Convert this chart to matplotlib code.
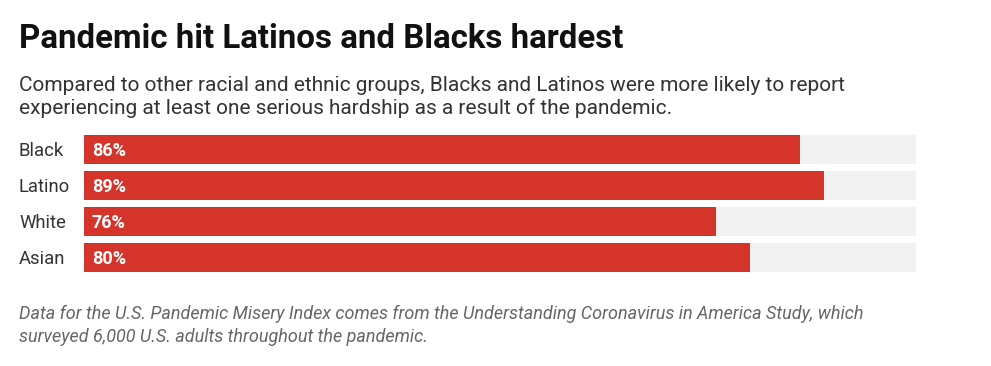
import matplotlib.pyplot as plt

# Datos
grupos = ['Black', 'Latino', 'White', 'Asian']
valores = [86, 89, 76, 80]
maximo = 100

titulo = 'Pandemic hit Latinos and Blacks hardest'
subtitulo = ('Compared to other racial and ethnic groups, Blacks and Latinos were more likely to report\n'
             'experiencing at least one serious hardship as a result of the pandemic.')
nota = ('Data for the U.S. Pandemic Misery Index comes from the Understanding Coronavirus in America Study, which\n'
        'surveyed 6,000 U.S. adults throughout the pandemic.')

plt.rcParams['font.family'] = ['Roboto', 'DejaVu Sans']

W, H = 991, 366
fig = plt.figure(figsize=(W / 100, H / 100), dpi=100)

# ejes de las barras (en pixeles -> fraccion)
x0, x1 = 84, 916
ytop, ybot = 131.5, 275.5
ax = fig.add_axes([x0 / W, 1 - ybot / H, (x1 - x0) / W, (ybot - ytop) / H])

pos = range(len(grupos))
ax.barh(pos, [maximo] * len(grupos), height=0.8, color='#f2f2f2')
ax.barh(pos, valores, height=0.8, color='#d5342a')
for i, v in enumerate(valores):
    ax.text(0.95, i, f'{v}%', color='white', fontweight='bold', fontsize=13,
            va='center_baseline', ha='left')
    ax.text(-65 / (x1 - x0) * maximo, i, grupos[i], color='#333333', fontsize=13.3,
            va='center_baseline', ha='left')

ax.set_xlim(0, maximo)
ax.set_ylim(len(grupos) - 0.5, -0.5)
ax.axis('off')

fig.text(19 / W, 1 - 48 / H, titulo, fontsize=23.75, fontweight='bold', color='#111111',
         va='baseline', ha='left')
fig.text(19 / W, 1 - 114 / H, subtitulo, fontsize=15, color='#333333',
         va='baseline', ha='left', linespacing=1.2)
fig.text(19 / W, 1 - 342 / H, nota, fontsize=13, color='#666666', style='italic',
         va='baseline', ha='left', linespacing=1.34)

fig.savefig('out.png', dpi=100)
